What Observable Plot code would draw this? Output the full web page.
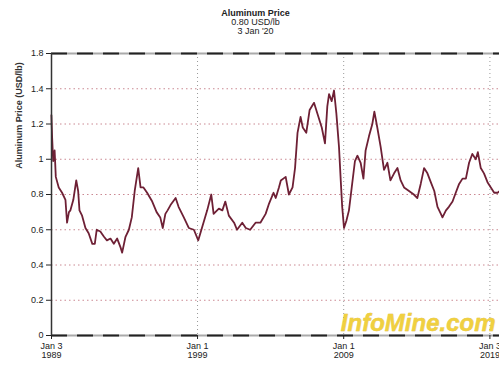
<!DOCTYPE html>
<html><head><meta charset="utf-8">
<script src="https://cdn.jsdelivr.net/npm/d3@7"></script>
<script src="https://cdn.jsdelivr.net/npm/@observablehq/plot@0.6"></script>
<style>body{margin:0;background:#fff;overflow:hidden}</style>
</head><body><div id="chart"></div>
<script>
const titleLines = ["Aluminum Price", "0.80 USD/lb", "3 Jan '20"];
const yLabel = "Aluminum Price (USD/lb)";
const yTickValues = [0, 0.2, 0.4, 0.6, 0.8, 1, 1.2, 1.4, 1.6];
const yTickLabels = ["0", "0.2", "0.4", "0.6", "0.8", "1", "1.2", "1.4", "1.8"];
const gridValues = [0.2, 0.4, 0.6, 0.8, 1, 1.2, 1.4];
const xTickDates = ["1989-01-03", "1999-01-01", "2009-01-01", "2019-01-03"];
const xTickLabels = ["Jan 3\n1989", "Jan 1\n1999", "Jan 1\n2009", "Jan 3\n2019"];
const xDomain = ["1989-01-03", "2020-01-03"];
const watermark = "InfoMine.com";

const years = [1989.00,1989.05,1989.12,1989.22,1989.30,1989.50,1989.73,1989.96,1990.07,1990.20,1990.30,1990.50,1990.70,1990.83,1990.92,1991.10,1991.33,1991.55,1991.80,1991.97,1992.10,1992.35,1992.60,1992.80,1993.04,1993.27,1993.50,1993.73,1993.84,1994.07,1994.30,1994.50,1994.70,1994.94,1995.10,1995.30,1995.55,1995.90,1996.20,1996.45,1996.62,1996.80,1996.95,1997.15,1997.50,1997.70,1998.06,1998.40,1998.75,1999.05,1999.30,1999.66,1999.94,2000.10,2000.46,2000.70,2000.90,2001.14,2001.50,2001.70,2002.06,2002.30,2002.60,2002.97,2003.30,2003.66,2003.90,2004.20,2004.35,2004.57,2004.70,2005.03,2005.25,2005.50,2005.67,2005.84,2006.05,2006.20,2006.44,2006.67,2006.97,2007.20,2007.50,2007.72,2007.88,2008.00,2008.18,2008.34,2008.50,2008.68,2008.80,2008.90,2009.02,2009.18,2009.36,2009.55,2009.77,2009.94,2010.16,2010.35,2010.50,2010.73,2010.96,2011.10,2011.30,2011.53,2011.76,2011.99,2012.20,2012.45,2012.68,2012.90,2013.13,2013.47,2013.80,2014.04,2014.27,2014.50,2014.73,2014.96,2015.20,2015.42,2015.65,2015.76,2016.00,2016.20,2016.45,2016.67,2016.90,2017.13,2017.36,2017.58,2017.80,2018.04,2018.18,2018.38,2018.60,2018.84,2019.07,2019.30,2019.53,2019.70,2019.85,2020.01];
const prices = [1.25,1.12,0.99,1.05,0.90,0.84,0.81,0.77,0.64,0.70,0.71,0.77,0.88,0.82,0.71,0.68,0.61,0.58,0.52,0.52,0.60,0.59,0.56,0.54,0.55,0.52,0.55,0.50,0.47,0.56,0.60,0.67,0.82,0.95,0.84,0.84,0.81,0.76,0.70,0.67,0.61,0.69,0.71,0.74,0.78,0.73,0.67,0.61,0.60,0.54,0.61,0.71,0.80,0.69,0.72,0.71,0.76,0.68,0.64,0.60,0.64,0.61,0.60,0.64,0.64,0.69,0.75,0.81,0.78,0.84,0.88,0.90,0.80,0.84,0.95,1.15,1.24,1.18,1.15,1.28,1.32,1.26,1.18,1.09,1.30,1.37,1.33,1.39,1.26,1.07,0.88,0.73,0.61,0.65,0.71,0.84,0.99,1.02,0.98,0.89,1.05,1.13,1.20,1.27,1.18,1.07,0.94,0.98,0.88,0.92,0.95,0.88,0.84,0.82,0.80,0.78,0.86,0.95,0.92,0.87,0.82,0.73,0.69,0.67,0.71,0.73,0.76,0.81,0.86,0.89,0.89,0.98,1.03,1.00,1.04,0.95,0.92,0.87,0.84,0.81,0.81,0.82,0.79,0.80];

const toDate = y => { const yr = Math.floor(y); return new Date(Date.UTC(yr, 0, 1) + (y - yr) * 365.25 * 864e5); };
const data = years.map((y, i) => ({date: toDate(y), price: prices[i]}));
const xTicks = xTickDates.map(d => new Date(d));
const font = "Liberation Sans, Arial, sans-serif";
const titleOpts = {frameAnchor: "top-left", dx: 204, textAnchor: "middle", lineAnchor: "middle", fontSize: 9, fill: "#222"};

const chart = Plot.plot({
  width: 499, height: 368,
  marginLeft: 51, marginRight: -5, marginTop: 53, marginBottom: 33,
  style: {fontFamily: font, fontSize: "9px", color: "#222", background: "#fff"},
  x: {type: "utc", domain: xDomain.map(d => new Date(d))},
  y: {domain: [0, 1.6]},
  marks: [
    Plot.ruleY(gridValues, {stroke: "#b8606e", strokeOpacity: 0.75, strokeDasharray: "1.5,3", strokeWidth: 1}),
    Plot.ruleX(xTicks.slice(1), {stroke: "#999", strokeDasharray: "1,3", strokeWidth: 1}),
    Plot.text([watermark], {frameAnchor: "bottom-right", dx: -9, dy: -12, text: d => d, fill: "#f0d040", stroke: "#d8b020", strokeWidth: 0.4, fontSize: 24, fontWeight: "bold", fontStyle: "italic", textAnchor: "end", lineAnchor: "middle", fontFamily: font}),
    Plot.line(data, {x: "date", y: "price", stroke: "#6e2035", strokeWidth: 1.8}),
    Plot.ruleY([0, 1.6], {stroke: "#aaa", strokeWidth: 2}),
    Plot.ruleY([0, 1.6], {stroke: "#222", strokeWidth: 2, strokeDasharray: "16,10"}),
    Plot.ruleX([xTicks[0]], {stroke: "#333", strokeWidth: 1.5}),
    Plot.axisY({ticks: yTickValues, tickSize: 5, tickPadding: 3, tickFormat: d => yTickLabels[yTickValues.indexOf(d)], label: null, fontSize: 9}),
    Plot.axisX({ticks: xTicks, tickSize: 4, tickPadding: 2, tickFormat: d => xTickLabels[xTicks.findIndex(t => +t === +d)], label: null, fontSize: 9, lineHeight: 1.1}),
    Plot.text([yLabel], {frameAnchor: "top-left", dx: -32, dy: 62, rotate: -90, textAnchor: "middle", lineAnchor: "middle", text: d => d, fontSize: 9, fontWeight: "bold", fill: "#333"}),
    Plot.text([titleLines[0]], {...titleOpts, dy: -40, text: d => d, fontWeight: "bold"}),
    Plot.text([titleLines[1]], {...titleOpts, dy: -31, text: d => d}),
    Plot.text([titleLines[2]], {...titleOpts, dy: -22, text: d => d})
  ]
});
document.getElementById("chart").appendChild(chart);
</script>
</body></html>
